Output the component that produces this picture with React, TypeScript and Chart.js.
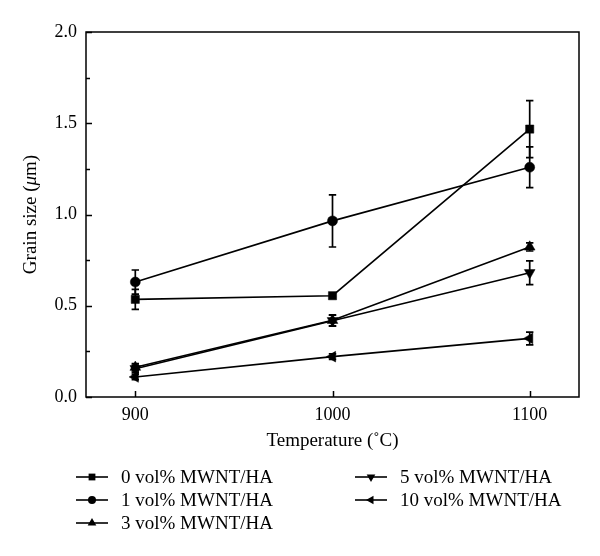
import React, { useEffect, useRef } from 'react';
import { Chart, registerables } from 'chart.js';

Chart.register(...registerables);

// ---- Data ----
const temperatures = [900, 1000, 1100];
const seriesLabels = [
  '0 vol% MWNT/HA',
  '1 vol% MWNT/HA',
  '3 vol% MWNT/HA',
  '5 vol% MWNT/HA',
  '10 vol% MWNT/HA',
];
const mwnt0 = [0.535, 0.555, 1.468];
const mwnt0Err = [0.055, 0, 0.156];
const mwnt1 = [0.63, 0.965, 1.259];
const mwnt1Err = [0.066, 0.143, 0.112];
const mwnt3 = [0.163, 0.42, 0.822];
const mwnt3Err = [0.02, 0.03, 0.022];
const mwnt5 = [0.155, 0.418, 0.681];
const mwnt5Err = [0.02, 0.03, 0.065];
const mwnt10 = [0.11, 0.221, 0.321];
const mwnt10Err = [0.015, 0.015, 0.035];

const xTickValues = [900, 1000, 1100];
const yTickValues = [0, 0.25, 0.5, 0.75, 1.0, 1.25, 1.5, 1.75, 2.0];
const yLabelValues = [0, 0.5, 1.0, 1.5, 2.0];

const xTitle = 'Temperature (˚C)';
// y title parts: [text, italic]
const yTitleParts: [string, boolean][] = [
  ['Grain size (', false],
  ['μ', true],
  ['m)', false],
];

// ---- Styles ----
const seriesValues = [mwnt0, mwnt1, mwnt3, mwnt5, mwnt10];
const seriesErrors = [mwnt0Err, mwnt1Err, mwnt3Err, mwnt5Err, mwnt10Err];
const pointStyles = ['rect', 'circle', 'triangle', 'triangle', 'triangle'];
const pointRotations = [0, 0, 0, 180, 270];
const pointRadii = [5.8, 5, 6.2, 6.2, 6.2];
const legendRadii = [4.8, 4, 5, 5, 5];
const FONT = '"Liberation Serif", "Times New Roman", serif';
const INK = '#000';

function drawMarker(ctx: CanvasRenderingContext2D, style: string, rotation: number, r: number, x: number, y: number) {
  ctx.beginPath();
  if (style === 'rect') {
    const s = r * Math.SQRT1_2;
    ctx.rect(x - s, y - s, 2 * s, 2 * s);
  } else if (style === 'circle') {
    ctx.arc(x, y, r, 0, Math.PI * 2);
  } else {
    let rad = (rotation * Math.PI) / 180;
    ctx.moveTo(x + Math.sin(rad) * r, y - Math.cos(rad) * r);
    rad += (2 * Math.PI) / 3;
    ctx.lineTo(x + Math.sin(rad) * r, y - Math.cos(rad) * r);
    rad += (2 * Math.PI) / 3;
    ctx.lineTo(x + Math.sin(rad) * r, y - Math.cos(rad) * r);
    ctx.closePath();
  }
  ctx.fill();
}

const errorBarPlugin = {
  id: 'errorBars',
  afterDatasetsDraw(chart: any) {
    const { ctx, scales } = chart;
    const x = scales.x;
    const y = scales.y;
    ctx.save();
    ctx.strokeStyle = INK;
    ctx.lineWidth = 1.7;
    seriesErrors.forEach((errs, i) => {
      errs.forEach((e, j) => {
        if (!e) return;
        const v = seriesValues[i][j];
        const px = x.getPixelForValue(temperatures[j]);
        const top = y.getPixelForValue(v + e);
        const bot = y.getPixelForValue(v - e);
        ctx.beginPath();
        ctx.moveTo(px, top);
        ctx.lineTo(px, bot);
        ctx.moveTo(px - 3.7, top);
        ctx.lineTo(px + 3.7, top);
        ctx.moveTo(px - 3.7, bot);
        ctx.lineTo(px + 3.7, bot);
        ctx.stroke();
      });
    });
    ctx.restore();
  },
};

const framePlugin = {
  id: 'frameTicks',
  afterDraw(chart: any) {
    const { ctx, chartArea, scales } = chart;
    const { left, right, top, bottom } = chartArea;
    ctx.save();
    ctx.strokeStyle = INK;
    ctx.lineWidth = 1.5;
    ctx.strokeRect(left, top, right - left, bottom - top);
    ctx.beginPath();
    yTickValues.forEach((v) => {
      const py = Math.round(scales.y.getPixelForValue(v)) + 0.5;
      const major = yLabelValues.includes(v);
      ctx.moveTo(left, py);
      ctx.lineTo(left + (major ? 6 : 4), py);
    });
    xTickValues.forEach((v) => {
      const px = Math.round(scales.x.getPixelForValue(v)) + 0.5;
      ctx.moveTo(px, bottom);
      ctx.lineTo(px, bottom - 6);
    });
    ctx.stroke();

    // y-axis title with italic mu
    const fonts = yTitleParts.map(([, it]) => `${it ? 'italic ' : ''}19px ${FONT}`);
    let total = 0;
    const widths = yTitleParts.map(([t], k) => {
      ctx.font = fonts[k];
      const w = ctx.measureText(t).width;
      total += w;
      return w;
    });
    const cy = (top + bottom) / 2;
    ctx.translate(31, cy);
    ctx.rotate(-Math.PI / 2);
    ctx.fillStyle = INK;
    ctx.textBaseline = 'middle';
    ctx.textAlign = 'left';
    let xpos = -total / 2;
    yTitleParts.forEach(([t], k) => {
      ctx.font = fonts[k];
      ctx.fillText(t, xpos, 0);
      xpos += widths[k];
    });
    ctx.restore();
  },
};

const legendPlugin = {
  id: 'columnLegend',
  afterDraw(chart: any) {
    const { ctx } = chart;
    const cols = [
      { lineStart: 76, lineEnd: 108, textX: 121 },
      { lineStart: 355, lineEnd: 387, textX: 400 },
    ];
    const rows = [477, 500, 523];
    const placement = [
      [0, 0],
      [0, 1],
      [0, 2],
      [1, 0],
      [1, 1],
    ];
    ctx.save();
    ctx.fillStyle = INK;
    ctx.strokeStyle = INK;
    ctx.font = `19px ${FONT}`;
    ctx.textBaseline = 'middle';
    ctx.textAlign = 'left';
    chart.data.datasets.forEach((ds: any, i: number) => {
      const [c, r] = placement[i];
      const col = cols[c];
      const y = rows[r];
      ctx.lineWidth = 1.6;
      ctx.beginPath();
      ctx.moveTo(col.lineStart, y);
      ctx.lineTo(col.lineEnd, y);
      ctx.stroke();
      drawMarker(ctx, pointStyles[i], pointRotations[i], legendRadii[i], (col.lineStart + col.lineEnd) / 2, y);
      ctx.fillText(ds.label, col.textX, y + 1);
    });
    ctx.restore();
  },
};

export default function App() {
  const canvasRef = useRef<HTMLCanvasElement | null>(null);

  useEffect(() => {
    document.body.style.margin = '0';
    const canvas = canvasRef.current;
    if (!canvas) return;
    const chart = new Chart(canvas, {
      type: 'line',
      data: {
        datasets: seriesValues.map((vals, i) => ({
          label: seriesLabels[i],
          data: vals.map((v, j) => ({ x: temperatures[j], y: v })),
          borderColor: INK,
          backgroundColor: INK,
          borderWidth: 1.6,
          pointStyle: pointStyles[i] as any,
          pointRotation: pointRotations[i],
          pointRadius: pointRadii[i],
          pointBackgroundColor: INK,
          pointBorderColor: INK,
          pointBorderWidth: 0.5,
          tension: 0,
          fill: false,
          clip: false as any,
        })),
      },
      options: {
        animation: false,
        responsive: false,
        maintainAspectRatio: false,
        events: [],
        layout: { padding: { left: 0, top: 32, right: 21, bottom: 0 } },
        plugins: {
          legend: { display: false },
          tooltip: { enabled: false },
        },
        scales: {
          x: {
            type: 'linear',
            min: 875,
            max: 1125,
            afterBuildTicks: (scale: any) => {
              scale.ticks = xTickValues.map((v) => ({ value: v }));
            },
            afterFit: (scale: any) => {
              scale.height = 159;
            },
            grid: { display: false, drawTicks: false },
            border: { display: false },
            ticks: {
              color: INK,
              padding: 7,
              maxRotation: 0,
              font: { family: FONT, size: 18 },
              callback: (v: any) => String(v),
            },
            title: {
              display: true,
              text: xTitle,
              color: INK,
              font: { family: FONT, size: 19 },
              padding: { top: 0, bottom: 104 },
            },
          },
          y: {
            type: 'linear',
            min: 0,
            max: 2,
            afterBuildTicks: (scale: any) => {
              scale.ticks = yTickValues.map((v) => ({ value: v }));
            },
            afterFit: (scale: any) => {
              scale.width = 86;
            },
            grid: { display: false, drawTicks: false },
            border: { display: false },
            ticks: {
              color: INK,
              padding: 9,
              font: { family: FONT, size: 18 },
              callback: (v: any) => (yLabelValues.includes(Number(v)) ? Number(v).toFixed(1) : ''),
            },
            title: { display: false },
          },
        },
      },
      plugins: [errorBarPlugin, framePlugin, legendPlugin],
    } as any);
    return () => chart.destroy();
  }, []);

  return (
    <div style={{ width: 600, height: 556, background: '#fff' }}>
      <canvas ref={canvasRef} width={600} height={556} style={{ display: 'block', width: 600, height: 556 }} />
    </div>
  );
}
